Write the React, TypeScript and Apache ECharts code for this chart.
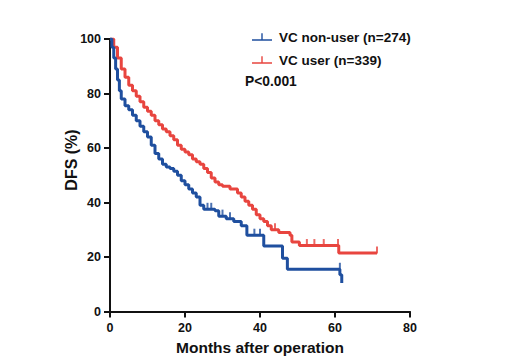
import React, { useEffect, useRef } from "react";
import * as echarts from "echarts";

const xTicks = [0, 20, 40, 60, 80];
const yTicks = [0, 20, 40, 60, 80, 100];

const nonUserName = "VC non-user (n=274)";
const userName = "VC user (n=339)";
const pText = "P<0.001";
const xTitle = "Months after operation";
const yTitle = "DFS (%)";

const nonUser: [number, number][] = [
  [0, 100], [0.5, 97], [1, 93], [1.5, 89], [2, 85], [2.5, 81], [3, 78], [4, 75.5], [5, 74],
  [6, 72], [7, 70], [8, 68], [9, 66], [10, 64], [11, 61], [12, 58], [13, 56], [14, 54],
  [15, 53], [16, 52.5], [17, 51.5], [18, 50], [19, 48], [20, 46.5], [21, 45], [22, 43.5],
  [23, 42], [24, 39], [25, 37.5], [28, 37], [29, 35], [31, 34], [33, 33], [35, 31.5],
  [36.5, 28], [41, 24], [46, 19.5], [47.3, 15.5], [61.3, 13.5], [61.8, 10.5],
];

const user: [number, number][] = [
  [0, 100], [1, 97], [2, 93], [3, 89], [4, 86], [5, 83], [6, 81], [7, 79], [8, 77], [9, 75],
  [10, 73.5], [11, 72], [12, 70], [13, 68.5], [14, 67], [15, 66], [16, 64.5], [17, 63],
  [18, 61], [19, 59.5], [20, 58.5], [21, 57.5], [22, 56], [23, 55], [24, 54], [25, 52.5],
  [26, 51], [27, 49], [28, 47.5], [29, 46.5], [30, 46], [32, 45], [34, 43.5], [35, 42],
  [36, 40.5], [37, 39], [38, 37.5], [39, 35.5], [40, 34], [41, 33], [42, 31.5], [43, 30],
  [45, 29], [48, 28], [48.5, 25.5], [50.5, 24.2], [61, 21.5], [71.2, 21.5],
];

const nonUserCensor: [number, number][] = [
  [26, 37.5], [27, 37.5], [30, 35], [32, 34], [38.5, 28], [40, 28], [61.3, 15.5],
];
const userCensor: [number, number][] = [
  [44, 30], [52.5, 24.2], [54.5, 24.2], [57, 24.2], [60.8, 24.2], [71.2, 21.5],
];

const BLUE = "#1f4f9f";
const RED = "#e8453f";

export default function App() {
  const ref = useRef<HTMLDivElement>(null);
  useEffect(() => {
    if (!ref.current) return;
    const chart = echarts.init(ref.current, undefined, { renderer: "svg" });
    const font = "Liberation Sans, Arial, sans-serif";
    chart.setOption({
      animation: false,
      backgroundColor: "#ffffff",
      grid: { left: 110, right: 122, top: 39, bottom: 48.5, containLabel: false, outerBoundsMode: "none" },
      xAxis: {
        type: "value",
        min: 0,
        max: 80,
        interval: 20,
        name: xTitle,
        nameLocation: "middle",
        nameGap: 26,
        nameTextStyle: { fontFamily: font, fontWeight: "bold", fontSize: 15.5, color: "#111" },
        axisLine: { show: true, onZero: false, lineStyle: { color: "#111", width: 2 } },
        axisTick: { show: true, length: 6, lineStyle: { color: "#111", width: 2 } },
        axisLabel: {
          fontFamily: font, fontWeight: "bold", fontSize: 12.5, color: "#111", margin: 10,
          formatter: (v: number) => (xTicks.includes(v) ? String(v) : ""),
        },
        splitLine: { show: false },
      },
      yAxis: {
        type: "value",
        min: 0,
        max: 100,
        interval: 20,
        axisLine: { show: true, lineStyle: { color: "#111", width: 2 } },
        axisTick: { show: true, length: 6, lineStyle: { color: "#111", width: 2 } },
        axisLabel: {
          fontFamily: font, fontWeight: "bold", fontSize: 12.5, color: "#111", margin: 9,
          formatter: (v: number) => (yTicks.includes(v) ? String(v) : ""),
        },
        splitLine: { show: false },
      },
      legend: {
        orient: "vertical",
        left: 247,
        top: 25,
        itemWidth: 20,
        itemHeight: 8,
        itemGap: 9,
        data: [
          { name: nonUserName, icon: "path://M0,6h20v1.4h-20z M9.3,0h1.4v7h-1.4z" },
          { name: userName, icon: "path://M0,6h20v1.4h-20z M9.3,0h1.4v7h-1.4z" },
        ],
        textStyle: { fontFamily: font, fontWeight: "bold", fontSize: 13.5, color: "#111", padding: [0, 0, 0, 2] },
      },
      graphic: [
        {
          type: "text",
          left: 245,
          top: 74,
          style: { text: pText, fontFamily: font, fontWeight: "bold", fontSize: 13.8, fill: "#111" },
        },
        {
          type: "text",
          x: 71,
          y: 160,
          rotation: Math.PI / 2,
          style: {
            text: yTitle, fontFamily: font, fontWeight: "bold", fontSize: 16, fill: "#111",
            align: "center", verticalAlign: "middle",
          },
        },
      ],
      series: [
        {
          name: nonUserName,
          type: "line",
          step: "end",
          data: nonUser,
          showSymbol: false,
          symbol: "none",
          color: BLUE,
          lineStyle: { color: BLUE, width: 3 },
          z: 3,
        },
        {
          name: userName,
          type: "line",
          step: "end",
          data: user,
          showSymbol: false,
          symbol: "none",
          color: RED,
          lineStyle: { color: RED, width: 3 },
          z: 2,
        },
        {
          name: nonUserName + " censored",
          type: "scatter",
          data: nonUserCensor,
          symbol: "rect",
          symbolSize: [2, 7],
          symbolOffset: [0, -3],
          itemStyle: { color: BLUE },
          z: 3,
        },
        {
          name: userName + " censored",
          type: "scatter",
          data: userCensor,
          symbol: "rect",
          symbolSize: [2, 7],
          symbolOffset: [0, -3],
          itemStyle: { color: RED },
          z: 2,
        },
      ],
    });
    return () => chart.dispose();
  }, []);
  return <div ref={ref} style={{ width: 532, height: 360, position: "absolute", left: 0, top: 0 }} />;
}
